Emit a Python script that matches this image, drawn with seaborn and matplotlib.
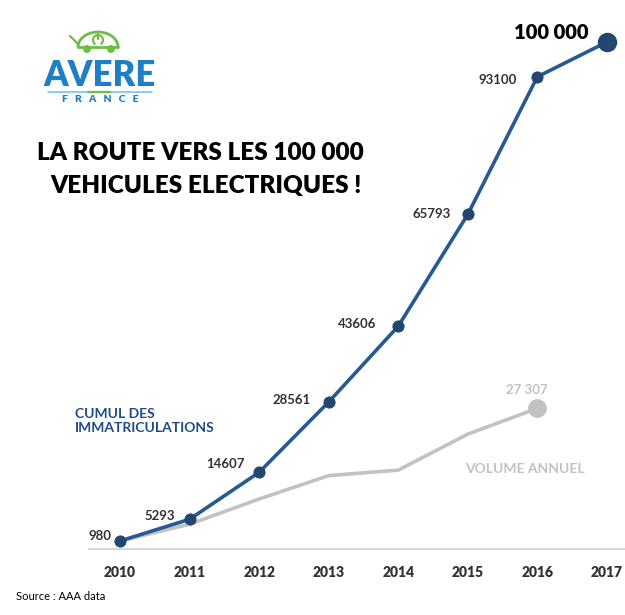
import matplotlib
matplotlib.use("Agg")
import matplotlib.pyplot as plt
import seaborn as sns
import pandas as pd
from matplotlib.patches import Circle, Arc

# ===== DATA =====
years = [2010, 2011, 2012, 2013, 2014, 2015, 2016, 2017]
cumul = [980, 5293, 14607, 28561, 43606, 65793, 93100, 100000]
cumul_labels = ["980", "5293", "14607", "28561", "43606", "65793", "93100", "100 000"]
annual_years = [2010, 2011, 2012, 2013, 2014, 2015, 2016]
annual = [980, 4313, 9314, 13954, 15045, 22187, 27307]
annual_last_label = "27 307"

# label offsets in pixels (dx for right edge, dy)
label_offsets = [(-9, 5), (-15, 3), (-14, 8), (-18, 2), (-22, 2), (-17, 0), (-20, -3), (-18, 9)]

BLUE = "#285a92"
BLUE_DOT = "#22466e"
GRAY = "#c2c2c2"
DARK = "#333333"

sns.set_style("white")
plt.rcParams["font.family"] = ["Lato", "DejaVu Sans"]

df_c = pd.DataFrame({"year": years, "value": cumul})
df_a = pd.DataFrame({"year": annual_years, "value": annual})

W, H = 625, 615
fig = plt.figure(figsize=(W / 100, H / 100), dpi=100)
ax = fig.add_axes([89 / W, (H - 549) / H, (W - 89) / W, (549 - 20) / H])

# annual volume line (gray)
sns.lineplot(data=df_a, x="year", y="value", ax=ax, color=GRAY, lw=2.6, zorder=2)
ax.plot(annual_years[-1], annual[-1], "o", ms=12.5, color=GRAY, zorder=3)

# cumulative line (blue)
sns.lineplot(data=df_c, x="year", y="value", ax=ax, color=BLUE, lw=2.6, zorder=4)
sns.scatterplot(data=df_c.iloc[:-1], x="year", y="value", ax=ax, color=BLUE_DOT,
                s=65, edgecolor=BLUE_DOT, zorder=5)
ax.plot(years[-1], cumul[-1], "o", ms=13, color=BLUE_DOT, zorder=5)

for i, (x, y, lab) in enumerate(zip(years, cumul, cumul_labels)):
    dx, dy = label_offsets[i]
    big = i == len(years) - 1
    ax.annotate(lab, (x, y), xytext=(dx, dy), textcoords="offset pixels",
                ha="right", va="center", fontsize=14.5 if big else 9.5,
                fontweight="heavy" if big else "bold",
                color="black" if big else DARK, clip_on=False)

ax.annotate(annual_last_label, (annual_years[-1], annual[-1]), xytext=(-10, 18),
            textcoords="offset pixels", ha="center", va="center", fontsize=9.5,
            fontweight="bold", color=GRAY)

ax.set_xlim(2009.554, 2017.26)
ax.set_ylim(-607, 104365)
ax.set_xticks(years)
ax.set_xticklabels([str(y) for y in years], fontweight="heavy", fontsize=10, color=DARK)
ax.set_yticks([])
ax.set_xlabel("")
ax.set_ylabel("")
ax.tick_params(axis="x", length=0, pad=12)
for s in ["top", "left", "right"]:
    ax.spines[s].set_visible(False)
ax.spines["bottom"].set_color("#d0d0d0")
ax.spines["bottom"].set_linewidth(1.2)

# series labels
fig.text(75 / W, 1 - 421 / H, "CUMUL DES\nIMMATRICULATIONS", color="#1f4b86",
         fontsize=10, fontweight="bold", ha="left", va="center", linespacing=1.2)
fig.text(525 / W, 1 - 469 / H, "VOLUME ANNUEL", color=GRAY, fontsize=10,
         fontweight="bold", ha="center", va="center")

# title
fig.text(200 / W, 1 - 153 / H, "LA ROUTE VERS LES 100 000", fontsize=17.5,
         fontweight="heavy", ha="center", va="center", color="black")
fig.text(206 / W, 1 - 186 / H, "VEHICULES ELECTRIQUES !", fontsize=17.5,
         fontweight="heavy", ha="center", va="center", color="black")

# source
fig.text(16 / W, 1 - 597 / H, "Source : AAA data", fontsize=8, ha="left",
         va="center", color="black")

# logo (pixel coordinates in an inset)
lg = fig.add_axes([40 / W, 1 - 110 / H, 120 / W, 90 / H])
lg.set_xlim(40, 160)
lg.set_ylim(110, 20)
lg.axis("off")
GREEN = "#6cbd45"
LOGO_BLUE = "#1e7fc4"
lg.add_patch(Arc((98, 47), 40, 30, theta1=180, theta2=360, color=GREEN, lw=2))
lg.plot([78, 118], [47, 47], color=GREEN, lw=2)
lg.plot([70, 78], [36, 44], color=GREEN, lw=1.6)
lg.add_patch(Circle((87, 49), 3.2, color=GREEN))
lg.add_patch(Circle((111, 49), 3.2, color=GREEN))
lg.add_patch(Arc((98, 40), 10, 10, theta1=120, theta2=420, color=GREEN, lw=1.5))
lg.plot([98, 98], [34, 39], color=GREEN, lw=1.5)
lg.text(100, 75, "AVERE", color=LOGO_BLUE, fontsize=25, fontweight="heavy",
        ha="center", va="center")
lg.plot([48, 152], [92, 92], color="#7fc0ea", lw=1.2)
lg.plot([88, 110], [92, 92], color=GREEN, lw=1.6)
lg.text(100, 100, "F   R   A   N   C   E", color=LOGO_BLUE, fontsize=7.5,
        fontweight="heavy", ha="center", va="center")

fig.savefig("out.png", dpi=100)
